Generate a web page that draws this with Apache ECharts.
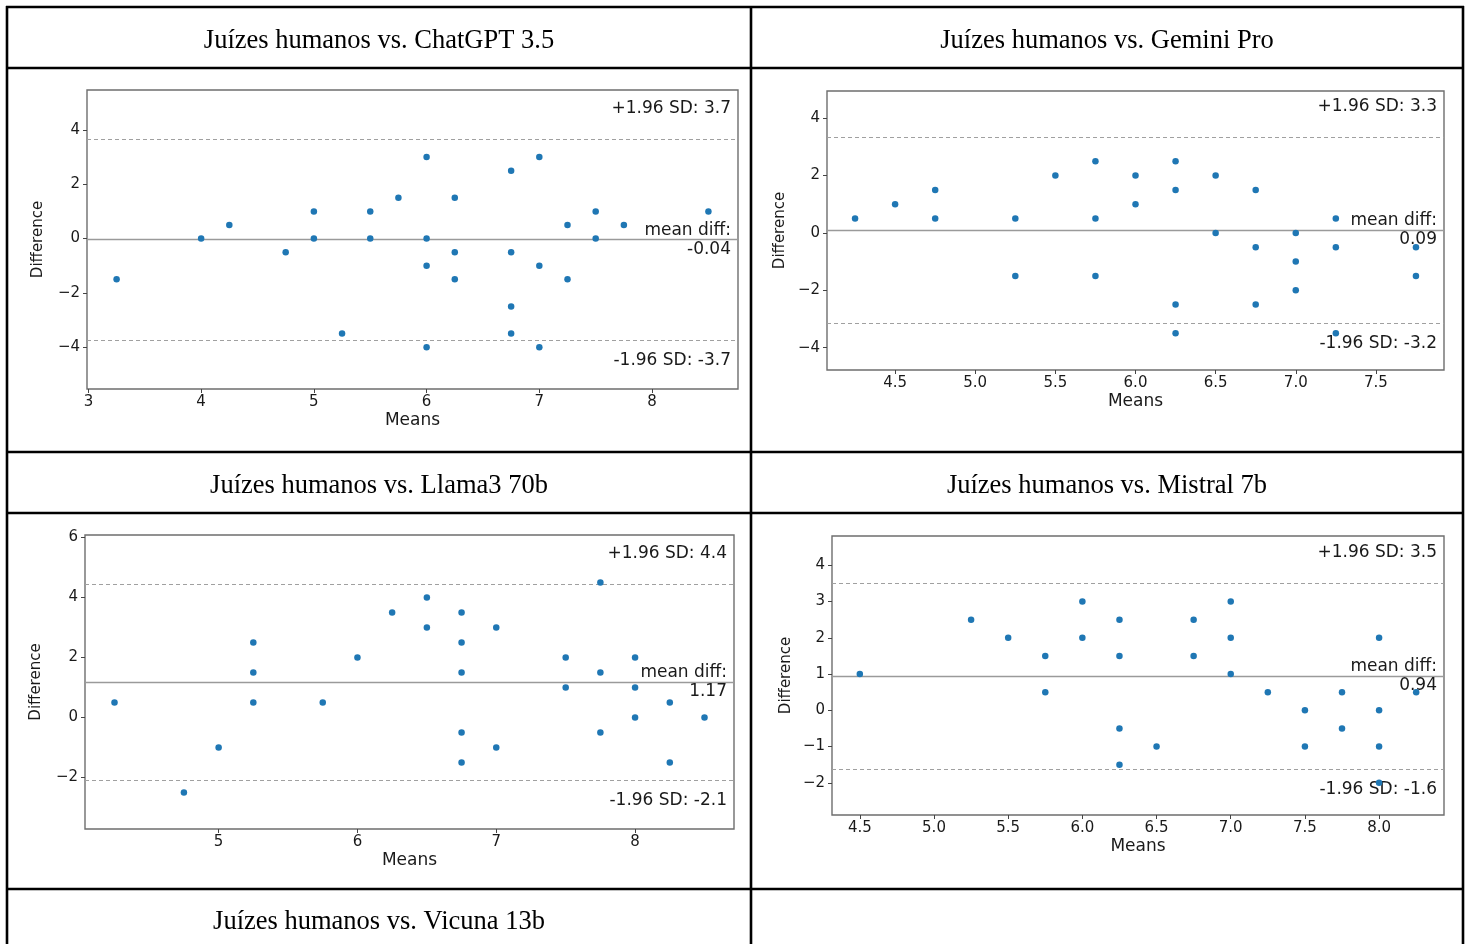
<!DOCTYPE html>
<html><head><meta charset="utf-8">
<script src="https://cdn.jsdelivr.net/npm/echarts@6/dist/echarts.min.js"></script>
<style>html,body{margin:0;padding:0;background:#fff}#c{width:1469px;height:944px}</style>
</head><body><div id="c"></div>
<script>
// ---------- data ----------
const titles = ['Juízes humanos vs. ChatGPT 3.5', 'Juízes humanos vs. Gemini Pro',
  'Juízes humanos vs. Llama3 70b', 'Juízes humanos vs. Mistral 7b', 'Juízes humanos vs. Vicuna 13b'];

const chatgptMeans = [3.25, 4, 4.25, 4.75, 5, 5, 5.25, 5.5, 5.5, 5.75, 6, 6, 6, 6, 6.25, 6.25, 6.25,
  6.75, 6.75, 6.75, 6.75, 7, 7, 7, 7.25, 7.25, 7.5, 7.5, 7.75, 8.5];
const chatgptDiffs = [-1.5, 0, 0.5, -0.5, 1, 0, -3.5, 1, 0, 1.5, 3, 0, -1, -4, 1.5, -0.5, -1.5,
  2.5, -0.5, -2.5, -3.5, 3, -1, -4, 0.5, -1.5, 1, 0, 0.5, 1];

const geminiMeans = [4.25, 4.5, 4.75, 4.75, 5.25, 5.25, 5.5, 5.75, 5.75, 5.75, 6, 6, 6.25, 6.25, 6.25, 6.25,
  6.5, 6.5, 6.75, 6.75, 6.75, 7, 7, 7, 7.25, 7.25, 7.25, 7.75, 7.75];
const geminiDiffs = [0.5, 1, 1.5, 0.5, 0.5, -1.5, 2, 2.5, 0.5, -1.5, 2, 1, 2.5, 1.5, -2.5, -3.5,
  2, 0, 1.5, -0.5, -2.5, 0, -1, -2, 0.5, -0.5, -3.5, -0.5, -1.5];

const llamaMeans = [4.25, 4.75, 5, 5.25, 5.25, 5.25, 5.75, 6, 6.25, 6.5, 6.5, 6.75, 6.75, 6.75, 6.75, 6.75,
  7, 7, 7.5, 7.5, 7.75, 7.75, 7.75, 8, 8, 8, 8.25, 8.25, 8.5];
const llamaDiffs = [0.5, -2.5, -1, 2.5, 1.5, 0.5, 0.5, 2, 3.5, 4, 3, 3.5, 2.5, 1.5, -0.5, -1.5,
  3, -1, 2, 1, 4.5, 1.5, -0.5, 2, 1, 0, 0.5, -1.5, 0];

const mistralMeans = [4.5, 5.25, 5.5, 5.75, 5.75, 6, 6, 6.25, 6.25, 6.25, 6.25, 6.5, 6.75, 6.75,
  7, 7, 7, 7.25, 7.5, 7.5, 7.75, 7.75, 8, 8, 8, 8, 8.25];
const mistralDiffs = [1, 2.5, 2, 1.5, 0.5, 3, 2, 2.5, 1.5, -0.5, -1.5, -1, 2.5, 1.5,
  3, 2, 1, 0.5, 0, -1, 0.5, -0.5, 2, 0, -1, -2, 0.5];

const meanDiff = [-0.04, 0.09, 1.17, 0.94];
const upperLoA = [3.66, 3.34, 4.44, 3.51];
const lowerLoA = [-3.74, -3.16, -2.10, -1.63];

const xTicks = [[3, 4, 5, 6, 7, 8], [4.5, 5, 5.5, 6, 6.5, 7, 7.5], [5, 6, 7, 8], [4.5, 5, 5.5, 6, 6.5, 7, 7.5, 8]];
const yTicks = [[-4, -2, 0, 2, 4], [-4, -2, 0, 2, 4], [-2, 0, 2, 4, 6], [-2, -1, 0, 1, 2, 3, 4]];
const xLimits = [[2.9875, 8.7625], [4.075, 7.925], [4.0375, 8.7125], [4.3125, 8.4375]];
const yLimits = [[-5.54, 5.47], [-4.78, 4.95], [-3.72, 6.08], [-2.89, 4.81]];
const xDecimals = [0, 1, 0, 1];

const allMeans = [chatgptMeans, geminiMeans, llamaMeans, mistralMeans];
const allDiffs = [chatgptDiffs, geminiDiffs, llamaDiffs, mistralDiffs];

// ---------- layout ----------
const grids = [
  {left: 87, top: 90, width: 651, height: 299},
  {left: 827, top: 91, width: 617, height: 279},
  {left: 85, top: 535, width: 649, height: 294},
  {left: 832, top: 536, width: 612, height: 279}
];
const yNameGap = [41, 39, 41, 38];

const minus = s => String(s).replace('-', '\u2212');
const TXT = '#1a1a1a';
const FONT = 'DejaVu Sans';

const gridOpts = [], xAxes = [], yAxes = [], series = [];
grids.forEach((g, i) => {
  gridOpts.push({left: g.left, top: g.top, width: g.width, height: g.height,
    show: true, borderColor: '#6e6e6e', borderWidth: 1.4, backgroundColor: '#fff', containLabel: false});
  xAxes.push({
    type: 'value', gridIndex: i, min: xLimits[i][0], max: xLimits[i][1],
    name: 'Means', nameLocation: 'middle', nameGap: 23,
    nameTextStyle: {fontFamily: FONT, fontSize: 17, color: TXT},
    axisLine: {show: false, onZero: false}, splitLine: {show: false},
    axisTick: {show: true, inside: false, length: 4, lineStyle: {color: '#444'}, customValues: xTicks[i]},
    axisLabel: {fontFamily: FONT, fontSize: 15, color: TXT, margin: 6, customValues: xTicks[i],
      formatter: v => minus(v.toFixed(xDecimals[i]))}
  });
  yAxes.push({
    type: 'value', gridIndex: i, min: yLimits[i][0], max: yLimits[i][1],
    name: 'Difference', nameLocation: 'middle', nameGap: yNameGap[i],
    nameTextStyle: {fontFamily: FONT, fontSize: 15, color: TXT},
    axisLine: {show: false, onZero: false}, splitLine: {show: false},
    axisTick: {show: true, inside: false, length: 4, lineStyle: {color: '#444'}, customValues: yTicks[i]},
    axisLabel: {fontFamily: FONT, fontSize: 15, color: TXT, margin: 7, customValues: yTicks[i],
      formatter: v => minus(v)}
  });
  const lblBase = {fontFamily: FONT, fontSize: 17, color: TXT, show: true};
  const dashed = {type: [4, 3], color: '#a0a0a0', width: 1.1};
  series.push({
    type: 'scatter', xAxisIndex: i, yAxisIndex: i, symbolSize: 6.5,
    itemStyle: {color: '#1f77b4', opacity: 1},
    data: allMeans[i].map((m, k) => [m, allDiffs[i][k]]),
    z: 3,
    markLine: {
      silent: true, symbol: 'none', animation: false, z: 2,
      data: [
        {yAxis: upperLoA[i], lineStyle: dashed,
          label: Object.assign({}, lblBase, {position: 'insideEndTop', distance: [7, 22],
            formatter: '+1.96 SD: ' + upperLoA[i].toFixed(1)})},
        {yAxis: lowerLoA[i], lineStyle: dashed,
          label: Object.assign({}, lblBase, {position: 'insideEndBottom', distance: [7, 12],
            formatter: '-1.96 SD: ' + lowerLoA[i].toFixed(1)})},
        {yAxis: meanDiff[i], lineStyle: {type: 'solid', color: '#9a9a9a', width: 1.3},
          label: Object.assign({}, lblBase, {position: 'insideEndTop', distance: [7, 1],
            formatter: 'mean diff:'})},
        {yAxis: meanDiff[i], lineStyle: {type: 'solid', color: 'rgba(0,0,0,0)', width: 0},
          label: Object.assign({}, lblBase, {position: 'insideEndBottom', distance: [7, 1],
            formatter: meanDiff[i].toFixed(2)})}
      ]
    }
  });
});

// ---------- table frame + titles ----------
const L = 7, R = 1463, MID = 751;
const hLines = [7, 68, 452, 513, 889];
const titleCenters = [[379, 41], [1107, 41], [379, 486], [1107, 486], [379, 922]];
const graphic = [];
hLines.forEach(y => graphic.push({type: 'line', shape: {x1: L - 1, y1: y, x2: R + 1, y2: y},
  style: {stroke: '#000', lineWidth: 2.6}, z: 10}));
[L, MID, R].forEach(x => graphic.push({type: 'line', shape: {x1: x, y1: 6, x2: x, y2: 944},
  style: {stroke: '#000', lineWidth: 2.6}, z: 10}));
titles.forEach((t, i) => graphic.push({type: 'text', x: titleCenters[i][0], y: titleCenters[i][1],
  style: {text: t, font: '26.5px "Liberation Serif"', fill: '#000', align: 'center', verticalAlign: 'middle'}, z: 10}));

const chart = echarts.init(document.getElementById('c'), null, {renderer: 'canvas'});
chart.setOption({
  animation: false,
  backgroundColor: '#fff',
  grid: gridOpts, xAxis: xAxes, yAxis: yAxes, series: series, graphic: graphic
});
</script>
</body></html>
